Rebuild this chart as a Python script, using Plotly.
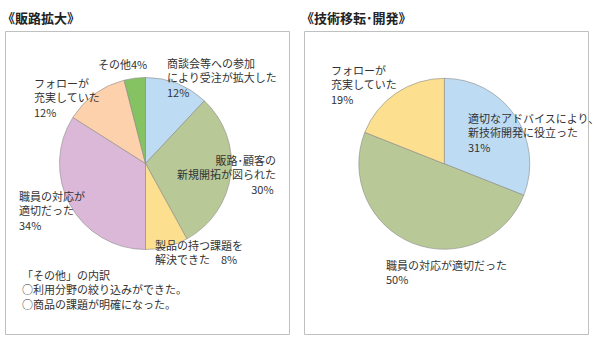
import plotly.graph_objects as go

W, H = 600, 354

# Data
left_labels = ["商談会等への参加により受注が拡大した", "販路・顧客の新規開拓が図られた", "製品の持つ課題を解決できた",
               "職員の対応が適切だった", "フォローが充実していた", "その他"]
left_values = [12, 30, 8, 34, 12, 4]
left_colors = ["#bddcf3", "#b8c997", "#fde08f", "#dcb8d8", "#fdd1ac", "#84c262"]

right_labels = ["適切なアドバイスにより、新技術開発に役立った", "職員の対応が適切だった", "フォローが充実していた"]
right_values = [31, 50, 19]
right_colors = ["#bddcf3", "#b8c997", "#fde08f"]

left_title = "《販路拡大》"
right_title = "《技術移転･開発》"
note_lines = ["「その他」の内訳", "○利用分野の絞り込みができた。", "○商品の課題が明確になった。"]

FONT = "Noto Sans CJK JP, sans-serif"
TXT = "#333333"

def px_dom(cx, cy, r):
    return dict(x=[(cx - r) / W, (cx + r) / W], y=[1 - (cy + r) / H, 1 - (cy - r) / H])

fig = go.Figure()
fig.add_trace(go.Pie(values=left_values, labels=left_labels, marker=dict(colors=left_colors, line=dict(color="#8a8a8a", width=0.6)),
                     sort=False, direction="clockwise", rotation=0, textinfo="none", hoverinfo="label+percent",
                     domain=px_dom(145.5, 163.5, 86), showlegend=False))
fig.add_trace(go.Pie(values=right_values, labels=right_labels, marker=dict(colors=right_colors, line=dict(color="#8a8a8a", width=0.6)),
                     sort=False, direction="clockwise", rotation=0, textinfo="none", hoverinfo="label+percent",
                     domain=px_dom(444.3, 163.8, 85.5), showlegend=False))

anns = []
def text_block(lines, x, yc, anchor="left", size=11, color=TXT, bold=False):
    t = "<br>".join(lines)
    if bold:
        t = "<b>%s</b>" % t
    anns.append(dict(x=x / W, y=1 - yc / H, xref="paper", yref="paper", text=t, align=anchor,
                     showarrow=False, xanchor=anchor, yanchor="middle", borderpad=0,
                     font=dict(family=FONT, size=size, color=color)))

text_block([left_title], 1, 18, size=13, color="#222222", bold=True)
text_block([right_title], 300, 18, size=13, color="#222222", bold=True)

# left labels (y = centre of block)
text_block(["その他%d%%" % left_values[5]], 97, 64.5)
text_block(["商談会等への参加", "により受注が拡大した", "%d%%" % left_values[0]], 166, 77.2)
text_block(["フォローが", "充実していた", "%d%%" % left_values[4]], 33, 97.5)
text_block(["販路･顧客の", "新規開拓が図られた", "%d%%&nbsp;" % left_values[1]], 277, 174.3, anchor="right")
text_block(["製品の持つ課題を", "解決できた　%d%%" % left_values[2]], 154, 251.7)
text_block(["職員の対応が", "適切だった", "%d%%" % left_values[3]], 18, 210.5)
text_block(note_lines, 21, 289.2)

# right labels
text_block(["フォローが", "充実していた", "%d%%" % right_values[2]], 330, 84.6)
text_block(["適切なアドバイスにより､", "新技術開発に役立った", "%d%%" % right_values[0]], 467, 132.3)
text_block(["職員の対応が適切だった", "%d%%" % right_values[1]], 385, 271.6)

shapes = [
    dict(type="rect", xref="paper", yref="paper", x0=5.5 / W, x1=289.5 / W, y0=1 - 334.5 / H, y1=1 - 31.5 / H,
         line=dict(color="#c0c0c0", width=1)),
    dict(type="rect", xref="paper", yref="paper", x0=304.5 / W, x1=588.5 / W, y0=1 - 334.5 / H, y1=1 - 31.5 / H,
         line=dict(color="#c0c0c0", width=1)),
]

fig.update_layout(width=W, height=H, margin=dict(l=0, r=0, t=0, b=0), paper_bgcolor="white", plot_bgcolor="white",
                  annotations=anns, shapes=shapes, showlegend=False)
fig.write_html("out.html")
